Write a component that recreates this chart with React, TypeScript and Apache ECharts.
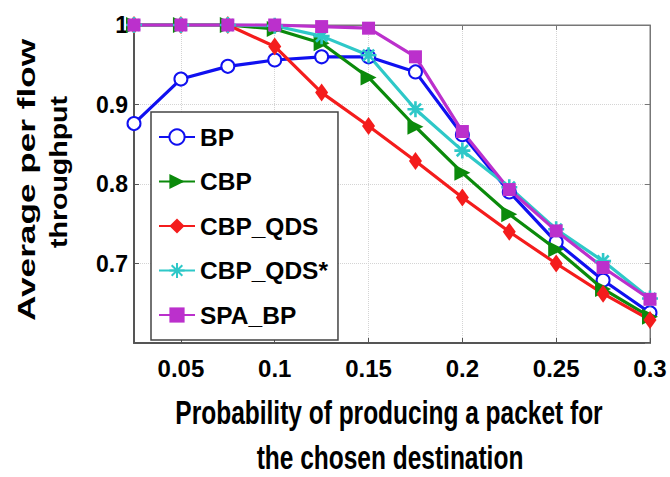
import React, { useEffect, useRef } from "react";
import * as echarts from "echarts";

const xValues = [0.025, 0.05, 0.075, 0.1, 0.125, 0.15, 0.175, 0.2, 0.225, 0.25, 0.275, 0.3];
const bp = [0.876, 0.932, 0.948, 0.956, 0.96, 0.96, 0.941, 0.862, 0.79, 0.727, 0.679, 0.638];
const cbp = [1, 1, 1, 0.995, 0.977, 0.934, 0.872, 0.814, 0.762, 0.718, 0.668, 0.633];
const cbpQds = [1, 1, 1, 0.973, 0.915, 0.873, 0.829, 0.783, 0.74, 0.7, 0.662, 0.629];
const cbpQdsStar = [1, 1, 1, 0.999, 0.986, 0.962, 0.894, 0.842, 0.796, 0.743, 0.703, 0.656];
const spaBp = [1, 1, 1, 1, 0.998, 0.996, 0.96, 0.866, 0.793, 0.741, 0.695, 0.655];
const seriesNames = ["BP", "CBP", "CBP_QDS", "CBP_QDS*", "SPA_BP"];
const xTicks = [0.05, 0.1, 0.15, 0.2, 0.25, 0.3];
const xRange = [0.025, 0.3];
const yRange = [0.6, 1];
const yStep = 0.1;
const yTitle = ["Average per flow", "throughput"];
const xTitle = ["Probability of producing a packet for", "the chosen destination"];

const FONT = '"Liberation Sans", Arial, Helvetica, sans-serif';
const ASTERISK = "path://M5 0L5 10M0 5L10 5M1.5 1.5L8.5 8.5M1.5 8.5L8.5 1.5";

export default function App() {
  const ref = useRef<HTMLDivElement>(null);
  useEffect(() => {
    if (!ref.current) return;
    const chart = echarts.init(ref.current, null, { renderer: "svg" });
    const pair = (ys: number[]) => xValues.map((x, i) => [x, ys[i]]);
    const values = [bp, cbp, cbpQds, cbpQdsStar, spaBp];
    const colors = ["#1010f0", "#0b8a0b", "#f41c1c", "#2ec8c8", "#bb30cc"];
    const symbols: any[] = ["emptyCircle", "triangle", "diamond", ASTERISK, "rect"];
    const sizes: any[] = [13, 16, [13, 18], 16, 13];
    const rotations = [0, -90, 0, 0, 0];

    const series = seriesNames.map((name, i) => ({
      name,
      type: "line",
      data: pair(values[i]),
      clip: false,
      symbol: symbols[i],
      symbolSize: sizes[i],
      symbolRotate: rotations[i],
      showAllSymbol: true,
      lineStyle: { color: colors[i], width: 3.2 },
      itemStyle: {
        color: colors[i],
        borderColor: colors[i],
        borderWidth: i === 0 || i === 3 ? 2.6 : 0,
      },
      emphasis: { disabled: true },
    }));

    const tickLabelStyle = {
      color: "#000",
      fontFamily: FONT,
      fontWeight: "bold" as const,
    };

    chart.setOption({
      animation: false,
      backgroundColor: "#ffffff",
      textStyle: { fontFamily: FONT },
      grid: {
        left: 134,
        right: 20,
        top: 25,
        bottom: 134,
        show: true,
        borderColor: "#777",
        borderWidth: 1,
        backgroundColor: "transparent",
      },
      xAxis: [
        {
          type: "value",
          position: "bottom",
          min: xRange[0],
          max: xRange[1],
          axisLine: { show: true, onZero: false, lineStyle: { color: "#555", width: 2 } },
          axisTick: { show: true, inside: true, length: 5, customValues: xTicks, lineStyle: { color: "#555" } },
          axisLabel: {
            ...tickLabelStyle,
            fontSize: 24,
            margin: 13,
            customValues: xTicks,
            formatter: (v: number) => String(v),
          },
          splitLine: { show: true, lineStyle: { color: "#d4d4d4", type: "dotted", width: 1 } },
        },
        {
          type: "value",
          position: "top",
          min: xRange[0],
          max: xRange[1],
          axisLine: { show: true, onZero: false, lineStyle: { color: "#777", width: 1 } },
          axisTick: { show: true, inside: true, length: 5, customValues: xTicks, lineStyle: { color: "#777" } },
          axisLabel: { show: false },
          splitLine: { show: false },
        },
      ],
      yAxis: [
        {
          type: "value",
          position: "left",
          min: yRange[0],
          max: yRange[1],
          interval: yStep,
          axisLine: { show: true, onZero: false, lineStyle: { color: "#555", width: 2 } },
          axisTick: { show: true, inside: true, length: 5, lineStyle: { color: "#555" } },
          axisLabel: {
            ...tickLabelStyle,
            fontSize: 23,
            margin: 6,
            showMinLabel: false,
            padding: [8, 0, 0, 0],
            formatter: (v: number) => (Math.abs(v - 1) < 1e-9 ? "1" : v.toFixed(1)),
          },
          splitLine: { show: true, lineStyle: { color: "#d4d4d4", type: "dotted", width: 1 } },
        },
        {
          type: "value",
          position: "right",
          min: yRange[0],
          max: yRange[1],
          interval: yStep,
          axisLine: { show: true, onZero: false, lineStyle: { color: "#777", width: 1 } },
          axisTick: { show: true, inside: true, length: 5, lineStyle: { color: "#777" } },
          axisLabel: { show: false },
          splitLine: { show: false },
        },
      ],
      legend: {
        show: true,
        orient: "vertical",
        left: 151,
        top: 112,
        padding: [10, 10, 10, 7],
        itemGap: 14.5,
        itemWidth: 36,
        itemHeight: 19,
        backgroundColor: "#ffffff",
        borderColor: "#444",
        borderWidth: 1.5,
        borderRadius: 0,
        selectedMode: false,
        data: seriesNames,
        textStyle: {
          color: "#000",
          fontFamily: FONT,
          fontWeight: "bold",
          fontSize: 24.5,
          lineHeight: 30,
        },
      },
      graphic: [
        {
          type: "text",
          x: 27,
          y: 180,
          rotation: Math.PI / 2,
          scaleX: 1.53,
          style: {
            text: yTitle[0],
            font: `bold 23px ${FONT}`,
            fill: "#000",
            textAlign: "center",
            textVerticalAlign: "middle",
            align: "center",
            verticalAlign: "middle",
          },
        },
        {
          type: "text",
          x: 59,
          y: 172,
          rotation: Math.PI / 2,
          scaleX: 1.24,
          style: {
            text: yTitle[1],
            font: `bold 23px ${FONT}`,
            fill: "#000",
            textAlign: "center",
            textVerticalAlign: "middle",
            align: "center",
            verticalAlign: "middle",
          },
        },
        {
          type: "text",
          x: 389,
          y: 413,
          scaleY: 1.35,
          style: {
            text: xTitle[0],
            font: `bold 24.5px ${FONT}`,
            fill: "#000",
            textAlign: "center",
            textVerticalAlign: "middle",
            align: "center",
            verticalAlign: "middle",
          },
        },
        {
          type: "text",
          x: 390,
          y: 458,
          scaleY: 1.35,
          style: {
            text: xTitle[1],
            font: `bold 24.5px ${FONT}`,
            fill: "#000",
            textAlign: "center",
            textVerticalAlign: "middle",
            align: "center",
            verticalAlign: "middle",
          },
        },
      ],
      series,
    });
    return () => chart.dispose();
  }, []);
  return (
    <div
      ref={ref}
      style={{ position: "fixed", left: 0, top: 0, width: 670, height: 477, background: "#fff" }}
    />
  );
}
